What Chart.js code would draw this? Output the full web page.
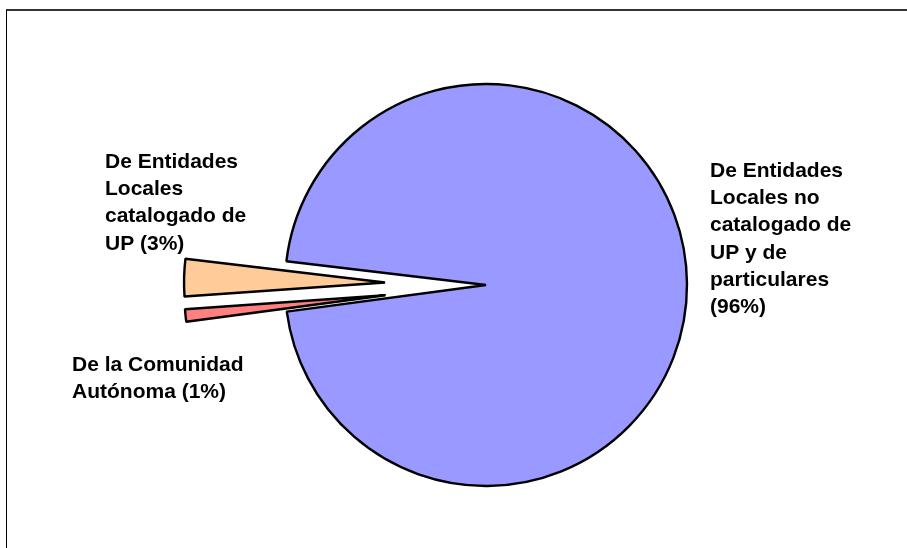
<!DOCTYPE html>
<html>
<head>
<meta charset="utf-8">
<script src="https://cdn.jsdelivr.net/npm/chart.js@4/dist/chart.umd.min.js"></script>
<style>
  html, body { margin: 0; padding: 0; background: #fff; }
  #wrap { position: relative; width: 907px; height: 548px; overflow: hidden; }
  #frame { position: absolute; left: 6px; top: 9px; right: -4px; bottom: -4px;
           border-top: 2px solid #333; border-left: 1px solid #000; }
  #pie { position: absolute; left: 0; top: 0; }
</style>
</head>
<body>
<div id="wrap">
  <div id="frame"></div>
  <canvas id="pie" width="907" height="548"></canvas>
</div>
<script>
// ownership shares (%), clockwise from the big slice
var categories = [
  "De Entidades Locales no catalogado de UP y de particulares",
  "De la Comunidad Autónoma",
  "De Entidades Locales catalogado de UP"
];
var shares = [96, 1, 3];
var sliceColors = ["#9999ff", "#ff8080", "#ffcc99"];

// how far each slice is pulled out of the pie, in px
var explode = [0, 101, 101];

// where each label block starts (left x, first baseline) and how wide it may get
var labelBoxes = [
  { x: 710, y: 177, w: 150 },
  { x: 72, y: 371, w: 185 },
  { x: 105, y: 168, w: 150 }
];
var labelFont = "bold 21px 'Liberation Sans', Arial, sans-serif";
var lineHeight = 27.2;

function wrapText(ctx, text, maxWidth) {
  var words = text.split(" ");
  var lines = [];
  var line = "";
  for (var i = 0; i < words.length; i++) {
    var test = line ? line + " " + words[i] : words[i];
    if (line && ctx.measureText(test).width > maxWidth) {
      lines.push(line);
      line = words[i];
    } else {
      line = test;
    }
  }
  if (line) lines.push(line);
  return lines;
}

var explodePlugin = {
  id: "explodeSlices",
  beforeDatasetDraw: function(chart, args) {
    var ctx = chart.ctx;
    args.meta.data.forEach(function(arc, i) {
      var mid = (arc.startAngle + arc.endAngle) / 2;
      ctx.save();
      ctx.translate(Math.cos(mid) * explode[i], Math.sin(mid) * explode[i]);
      arc.draw(ctx);
      ctx.restore();
    });
    return false;
  }
};

var labelPlugin = {
  id: "sliceLabels",
  afterDraw: function(chart) {
    var ctx = chart.ctx;
    ctx.save();
    ctx.font = labelFont;
    ctx.fillStyle = "#000";
    ctx.textAlign = "left";
    ctx.textBaseline = "alphabetic";
    categories.forEach(function(name, i) {
      var box = labelBoxes[i];
      var lines = wrapText(ctx, name + " (" + shares[i] + "%)", box.w);
      lines.forEach(function(l, j) {
        ctx.fillText(l, box.x, box.y + j * lineHeight);
      });
    });
    ctx.restore();
  }
};

new Chart(document.getElementById("pie"), {
  type: "pie",
  data: {
    labels: categories,
    datasets: [{
      data: shares,
      backgroundColor: sliceColors,
      borderColor: "#000",
      borderWidth: 2.4,
      hoverOffset: 0
    }]
  },
  options: {
    responsive: false,
    animation: false,
    rotation: 276.8,
    radius: 201,
    layout: { padding: { left: 65, right: 0, top: 22, bottom: 0 } },
    events: [],
    plugins: {
      legend: { display: false },
      tooltip: { enabled: false }
    }
  },
  plugins: [explodePlugin, labelPlugin]
});
</script>
</body>
</html>
